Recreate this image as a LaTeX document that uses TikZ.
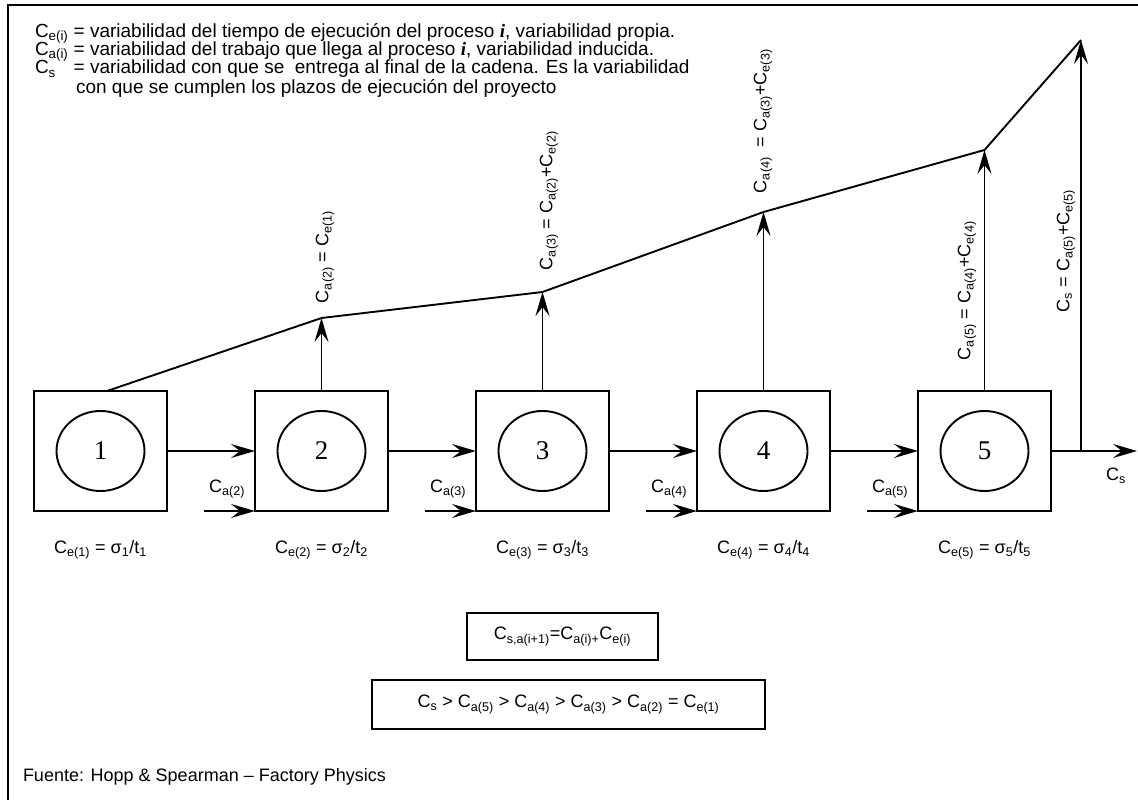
\documentclass[tikz,border=0pt]{standalone}
\usepackage{fontspec}
\setmainfont{Liberation Sans}
\newfontfamily\seriffont{Liberation Serif}
\usetikzlibrary{arrows.meta,shapes.geometric}
\newcommand\lo[1]{\textsubscript{#1}}
\newcommand\procI{{\seriffont\bfseries\itshape i}}
\begin{document}
\begin{tikzpicture}[x=1bp,y=-1bp,
  every node/.style={inner sep=0pt, outer sep=0pt},
  lbl/.style={font=\fontsize{18bp}{20bp}\selectfont},
  legend/.style={font=\fontsize{19bp}{20bp}\selectfont, anchor=west},
  procbox/.style={draw, line width=2bp, minimum width=133bp, minimum height=120bp},
  proc/.style={draw, ellipse, line width=1.9bp, minimum width=88bp, minimum height=80bp,
    font=\seriffont\fontsize{27bp}{30bp}\selectfont},
  arr/.style={-{Stealth[length=24bp,width=14bp,inset=9bp]}, line width=1.9bp},
  rlbl/.style={lbl, rotate=90, anchor=west},
  fbox/.style={draw, line width=2bp, lbl}]
\useasboundingbox (0,0) rectangle (1138,800);
% frame
\draw[line width=2bp] (8,805) -- (8,5) -- (1145,5);

% legend
\node[legend] (lg1) at (35,33) {C\lo{e(i)} = variabilidad del tiempo de ejecución del proceso \procI, variabilidad propia.};
\node[legend] (lg2) at (35,51.5) {C\lo{a(i)} = variabilidad del trabajo que llega al proceso \procI, variabilidad inducida.};
\node[legend] (lg3) at (35,70) {\rlap{C\lo{s}}\phantom{C\lo{a(i)}} = variabilidad con que se \ entrega al final de la cadena. Es la variabilidad};
\node[legend] (lg4) at (76,88.5) {con que se cumplen los plazos de ejecución del proyecto};

% processes
\foreach \k/\x in {1/100.5,2/321.5,3/542.5,4/763.5,5/984.5}{
  \node[procbox] (b\k) at (\x,451) {};
  \node[proc] (e\k) at (\x,451) {\k};
  \node[lbl] (ce\k) at (\x,550) {C\lo{e(\k)} = σ\lo{\k}/t\lo{\k}};
}

% flow between processes
\draw[arr] (b1.east) -- (b2.west);
\draw[arr] (b2.east) -- (b3.west);
\draw[arr] (b3.east) -- (b4.west);
\draw[arr] (b4.east) -- (b5.west);

% incoming variability
\foreach \k/\x in {2/204,3/425,4/646,5/867}{
  \coordinate (in\k) at (\x,511);
  \draw[arr] (in\k) -- (b\k.south west);
  \node[lbl] (ca\k) at (\x+23,489) {C\lo{a(\k)}};
}

% output
\coordinate (out) at (1137,451);
\coordinate (tap) at (1081,451);
\draw[arr] (b5.east) -- (out);
\node[lbl] (cs) at (1116,476) {C\lo{s}};

% accumulated variability
\coordinate (p1) at (107,391);
\coordinate (p2) at (321.5,318);
\coordinate (p3) at (542.5,292);
\coordinate (p4) at (763.5,212);
\coordinate (p5) at (984.5,150);
\coordinate (p6) at (1081,40);
\draw[line width=1.9bp] (p1) -- (p2) -- (p3) -- (p4) -- (p5) -- (p6);
\draw[arr] (b2.north) -- (p2);
\draw[arr] (b3.north) -- (p3);
\draw[arr] (b4.north) -- (p4);
\draw[arr] (b5.north) -- (p5);
\draw[arr] (tap) -- (p6);

\node[rlbl] (la2) at (325,303) {C\lo{a(2)} = C\lo{e(1)}};
\node[rlbl] (la3) at (549,270) {C\lo{a(3)} = C\lo{a(2)}+C\lo{e(2)}};
\node[rlbl] (la4) at (763,193) {C\lo{a(4)} \ = C\lo{a(3)}+C\lo{e(3)}};
\node[rlbl] (la5) at (967,360) {C\lo{a(5)} = C\lo{a(4)}+C\lo{e(4)}};
\node[rlbl] (ls) at (1066,312) {C\lo{s} = C\lo{a(5)}+C\lo{e(5)}};

% summary formulas
\node[fbox, minimum width=191bp, minimum height=47bp] (f1) at (562.5,636.5)
  {C\lo{s,a(i+1)}=C\lo{a(i)+}C\lo{e(i)}};
\node[fbox, minimum width=393bp, minimum height=49bp] (f2) at (568.5,704.5)
  {C\lo{s} > C\lo{a(5)} > C\lo{a(4)} > C\lo{a(3)} > C\lo{a(2)} = C\lo{e(1)}};

% source
\node[legend, font=\fontsize{18bp}{20bp}\selectfont] (src) at (23,777) {Fuente: Hopp \& Spearman – Factory Physics};
\end{tikzpicture}
\end{document}
